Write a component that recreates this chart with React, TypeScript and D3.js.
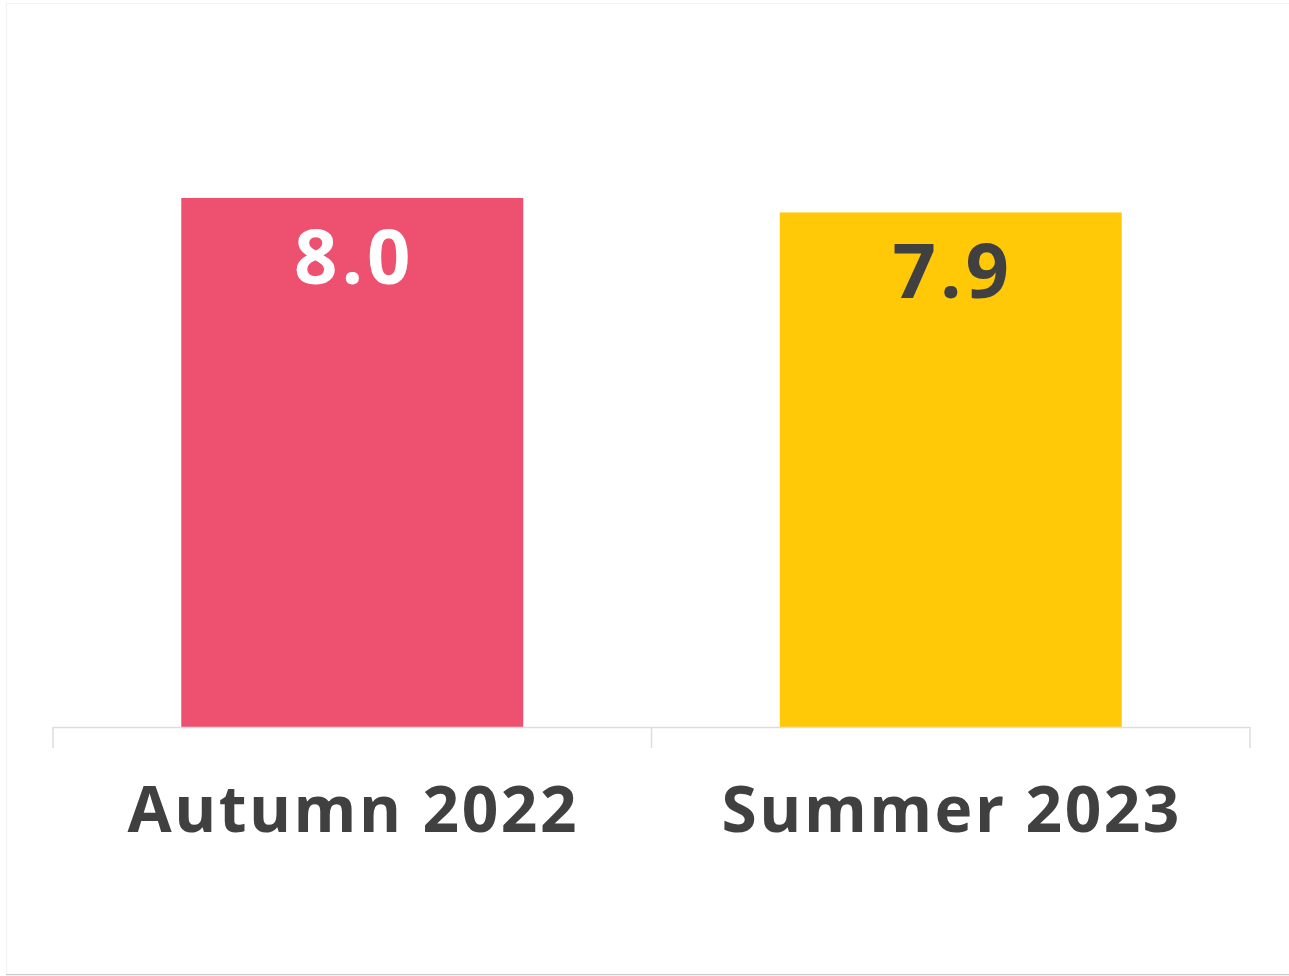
import React, { useRef, useEffect } from "react";
import * as d3 from "d3";

// chart data
const categories = ["Autumn 2022", "Summer 2023"];
const values = [8.04, 7.82];
const valueLabels = ["8.0", "7.9"];
const barColors = ["#ee506f", "#ffc907"];
const labelColors = ["#ffffff", "#404040"];

const App = () => {
	const chartRef = useRef<SVGSVGElement>(null);

	useEffect(() => {
		const width = 1289;
		const height = 976;
		const margin = { top: 69, right: 39, bottom: 249, left: 53 };

		const svg = d3.select(chartRef.current);
		svg.selectAll("*").remove();
		svg.attr("width", width).attr("height", height);

		// card background
		svg.append("rect")
			.attr("x", 6.5)
			.attr("y", 3.5)
			.attr("width", width - 6)
			.attr("height", height - 4)
			.attr("fill", "#ffffff")
			.attr("stroke", "#f3f3f3");
		svg.append("line")
			.attr("x1", 6)
			.attr("x2", width)
			.attr("y1", height - 1.5)
			.attr("y2", height - 1.5)
			.attr("stroke", "#c8c8c8");

		const pad = 0.4286;
		const xScale = d3.scaleBand()
			.domain(categories)
			.range([margin.left, width - margin.right])
			.paddingInner(pad)
			.paddingOuter(pad / 2);

		const yScale = d3.scaleLinear()
			.domain([0, 10])
			.range([height - margin.bottom, margin.top]);

		const baseY = yScale(0);
		const step = xScale.step();

		// bars
		svg.selectAll(".bar")
			.data(values)
			.enter()
			.append("rect")
			.attr("class", "bar")
			.attr("x", (d, i) => xScale(categories[i]))
			.attr("y", d => yScale(d))
			.attr("width", xScale.bandwidth())
			.attr("height", d => baseY - yScale(d))
			.attr("fill", (d, i) => barColors[i]);

		// axis line + ticks at category boundaries
		const axis = svg.append("g").attr("stroke", "#dddddd").attr("stroke-width", 1.5);
		axis.append("line")
			.attr("x1", margin.left)
			.attr("x2", width - margin.right)
			.attr("y1", baseY + 0.5)
			.attr("y2", baseY + 0.5);
		const tickXs = [0, 1, 2].map(i => margin.left + i * step);
		axis.selectAll(".tick")
			.data(tickXs)
			.enter()
			.append("line")
			.attr("x1", d => d)
			.attr("x2", d => d)
			.attr("y1", baseY)
			.attr("y2", baseY + 21);

		// value labels
		svg.selectAll(".val")
			.data(values)
			.enter()
			.append("text")
			.attr("class", "val")
			.attr("x", (d, i) => xScale(categories[i]) + xScale.bandwidth() / 2 + 2)
			.attr("y", d => yScale(d) + 86)
			.attr("text-anchor", "middle")
			.attr("font-family", "'Open Sans', sans-serif")
			.attr("font-weight", 700)
			.attr("font-size", 76)
			.attr("letter-spacing", 4)
			.attr("fill", (d, i) => labelColors[i])
			.text((d, i) => valueLabels[i]);

		// category labels
		svg.selectAll(".cat")
			.data(categories)
			.enter()
			.append("text")
			.attr("class", "cat")
			.attr("x", d => xScale(d) + xScale.bandwidth() / 2 + 1)
			.attr("y", baseY + 105)
			.attr("text-anchor", "middle")
			.attr("font-family", "'Open Sans', sans-serif")
			.attr("font-weight", 700)
			.attr("font-size", 64)
			.attr("letter-spacing", 2.5)
			.attr("fill", "#404040")
			.text(d => d);
	}, []);

	return <svg ref={chartRef} style={{ position: "absolute", left: 0, top: 0 }}></svg>;
};

export default App;
